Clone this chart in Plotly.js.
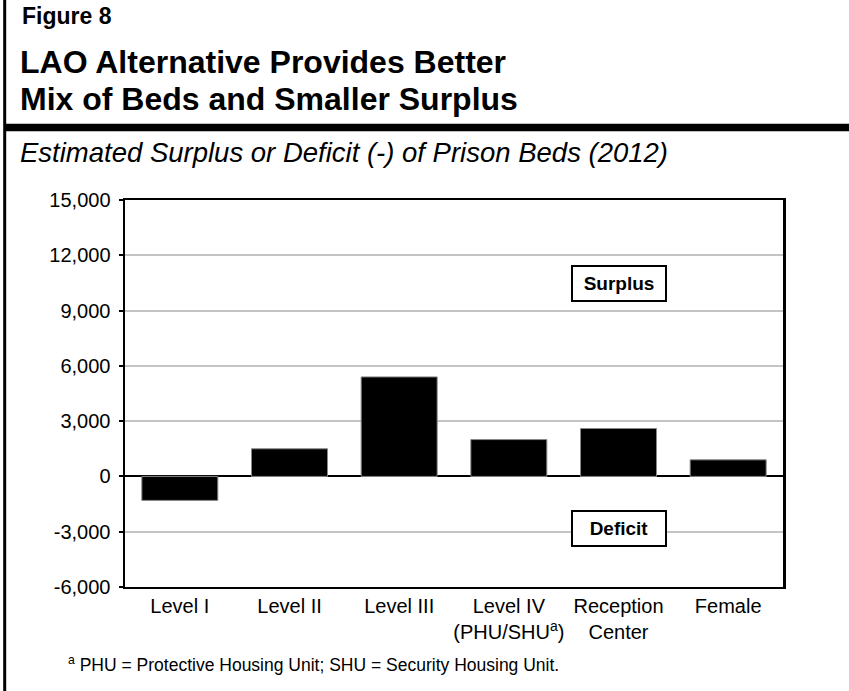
<!DOCTYPE html>
<html>
<head>
<meta charset="utf-8">
<script src="https://cdn.plot.ly/plotly-3.0.1.min.js"></script>
<style>
html,body{margin:0;padding:0;background:#fff;}
#chart{width:849px;height:691px;}
</style>
</head>
<body>
<div id="chart"></div>
<script>
var categories = ["Level I", "Level II", "Level III", "Level IV<br>(PHU/SHU<sup>a</sup>)", "Reception<br>Center", "Female"];
var bedValues = [-1300, 1500, 5400, 2000, 2600, 900];
var yTickValues = [-6000, -3000, 0, 3000, 6000, 9000, 12000, 15000];
var yTickLabels = ["-6,000", "-3,000", "0", "3,000", "6,000", "9,000", "12,000", "15,000"];

var FONT = "Liberation Sans, Arial, Helvetica, sans-serif";
var L = 125, R = 66, T = 200, B = 104, W = 849, H = 691;
var pw = W - L - R, ph = H - T - B;
function px(x){ return (x - L) / pw; }
function py(y){ return (H - B - y) / ph; }

var trace = {
  type: "bar",
  x: categories,
  y: bedValues,
  marker: {color: "#000000", line: {color: "#888888", width: 1}},
  hoverinfo: "none"
};

var layout = {
  width: W, height: H,
  margin: {l: L, r: R, t: T, b: B, pad: 0},
  paper_bgcolor: "#ffffff",
  plot_bgcolor: "#ffffff",
  showlegend: false,
  bargap: 0.307,
  font: {family: FONT, color: "#000000"},
  xaxis: {
    type: "category",
    showline: true, mirror: true, linecolor: "#000000", linewidth: 2,
    ticks: "", showgrid: false,
    tickfont: {size: 20, family: FONT, color: "#000"},
    fixedrange: true
  },
  yaxis: {
    range: [-6000, 15000],
    tickvals: yTickValues, ticktext: yTickLabels,
    showline: true, mirror: true, linecolor: "#000000", linewidth: 2.5,
    ticks: "outside", ticklen: 4, tickwidth: 2, tickcolor: "#000",
    showgrid: true, gridcolor: "#c4c4c4", gridwidth: 2,
    zeroline: true, zerolinecolor: "#000000", zerolinewidth: 2,
    tickfont: {size: 20, family: FONT, color: "#000"},
    ticklabelstandoff: 4,
    fixedrange: true
  },
  shapes: [
    {type: "line", xref: "paper", yref: "paper", x0: px(4.7), x1: px(W), y0: py(127.5), y1: py(127.5),
     line: {color: "#000", width: 7.5}},
    {type: "line", xref: "paper", yref: "paper", x0: px(4.7), x1: px(4.7), y0: py(0), y1: py(H),
     line: {color: "#000", width: 3}}
  ],
  annotations: [
    {xref: "paper", yref: "paper", x: px(20), y: py(31), xanchor: "left", yanchor: "bottom",
     text: "<b>Figure 8</b>", showarrow: false, font: {size: 23, family: FONT, color: "#000"}},
    {xref: "paper", yref: "paper", x: px(18), y: py(82), xanchor: "left", yanchor: "bottom",
     text: "<b>LAO Alternative Provides Better</b>", showarrow: false, font: {size: 32, family: FONT, color: "#000"}},
    {xref: "paper", yref: "paper", x: px(18), y: py(119), xanchor: "left", yanchor: "bottom",
     text: "<b>Mix of Beds and Smaller Surplus</b>", showarrow: false, font: {size: 32, family: FONT, color: "#000"}},
    {xref: "paper", yref: "paper", x: px(18), y: py(170), xanchor: "left", yanchor: "bottom",
     text: "<i>Estimated Surplus or Deficit (-) of Prison Beds (2012)</i>", showarrow: false, font: {size: 27.5, family: FONT, color: "#000"}},
    {xref: "paper", yref: "paper", x: px(66), y: py(677), xanchor: "left", yanchor: "bottom",
     text: "<sup>a</sup> PHU = Protective Housing Unit; SHU = Security Housing Unit.", showarrow: false, font: {size: 17.5, family: FONT, color: "#000"}},
    {x: "Reception<br>Center", y: 10450, xref: "x", yref: "y", text: "<b>Surplus</b>", showarrow: false,
     bgcolor: "#ffffff", bordercolor: "#000", borderwidth: 2, width: 90, height: 31,
     font: {size: 19, family: FONT, color: "#000"}},
    {x: "Reception<br>Center", y: -2840, xref: "x", yref: "y", text: "<b>Deficit</b>", showarrow: false,
     bgcolor: "#ffffff", bordercolor: "#000", borderwidth: 2, width: 90, height: 31,
     font: {size: 19, family: FONT, color: "#000"}}
  ]
};

Plotly.newPlot("chart", [trace], layout, {displayModeBar: false, staticPlot: true});
</script>
</body>
</html>
